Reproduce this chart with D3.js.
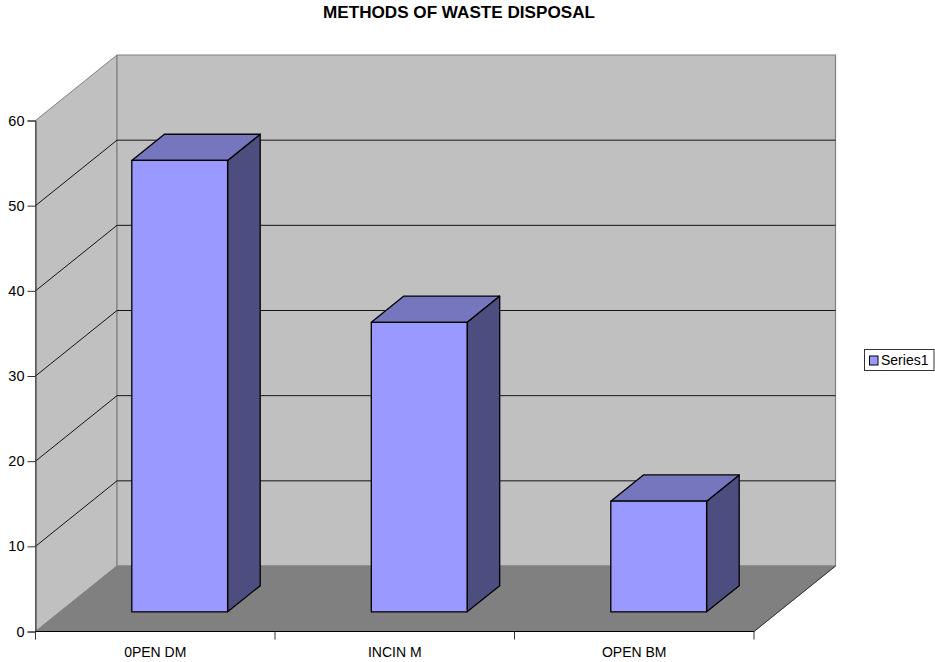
<!DOCTYPE html>
<html>
<head>
<meta charset="utf-8">
<script src="https://cdn.jsdelivr.net/npm/d3@7"></script>
<style>
  html, body { margin: 0; padding: 0; background: #fff; }
  text { font-family: "Liberation Sans", Arial, sans-serif; fill: #000; }
</style>
</head>
<body>
<svg id="chart" width="935" height="662"></svg>
<script>
// Chart content
const chartTitle = "METHODS OF WASTE DISPOSAL";
const categories = ["0PEN DM", "INCIN M", "OPEN BM"];
const seriesName = "Series1";
const values = [53, 34, 13];
const yTicks = [0, 10, 20, 30, 40, 50, 60];

// Colours of the 3D box and the walls
const barFront = "#9999FF", barTop = "#7676BE", barSide = "#4D4D7F";
const wallFill = "#C0C0C0", floorFill = "#808080", wallEdge = "#808080";

const svg = d3.select("#chart");

// Front plane of the plot
const x = d3.scaleBand().domain(categories).range([35.5, 754]).paddingInner(0).paddingOuter(0);
const y = d3.scaleLinear().domain([0, 60]).range([631.5, 120.5]);

// Oblique projection: depth 0 is the front plane, depth 1 the back wall
const depthX = d3.scaleLinear().domain([0, 1]).range([0, 81.5]);
const depthY = d3.scaleLinear().domain([0, 1]).range([0, -65.5]);
const pt = (px, val, d) => [px + depthX(d), y(val) + depthY(d)];
const poly = pts => "M" + pts.map(p => p.join(",")).join("L") + "Z";

const xLeft = x.range()[0], xRight = x.range()[1];
const yMax = yTicks[yTicks.length - 1];

// Side wall
svg.append("path")
  .attr("d", poly([pt(xLeft, 0, 0), pt(xLeft, 0, 1), pt(xLeft, yMax, 1), pt(xLeft, yMax, 0)]))
  .attr("fill", wallFill).attr("stroke", wallEdge).attr("stroke-width", 1);

// Back wall
svg.append("path")
  .attr("d", poly([pt(xLeft, 0, 1), pt(xRight, 0, 1), pt(xRight, yMax, 1), pt(xLeft, yMax, 1)]))
  .attr("fill", wallFill).attr("stroke", wallEdge).attr("stroke-width", 1.2);

// Floor
svg.append("path")
  .attr("d", poly([pt(xLeft, 0, 0), pt(xRight, 0, 0), pt(xRight, 0, 1), pt(xLeft, 0, 1)]))
  .attr("fill", floorFill).attr("stroke", wallEdge).attr("stroke-width", 1);

// Gridlines wrap across the side wall and the back wall
svg.append("g").selectAll("path")
  .data(yTicks.filter(t => t > 0 && t < yMax))
  .join("path")
  .attr("d", t => d3.line()([pt(xLeft, t, 0), pt(xLeft, t, 1), pt(xRight, t, 1)]))
  .attr("fill", "none").attr("stroke", "#000").attr("stroke-width", 0.9);

// Floor front edge towards the right-hand corner
svg.append("path")
  .attr("d", d3.line()([pt(xRight, 0, 0), pt(xRight, 0, 1)]))
  .attr("stroke", "#333").attr("stroke-width", 1).attr("fill", "none");

// Boxes: the bar fills 40% of each band and sits between depths 0.3 and 0.7
const barW = x.bandwidth() * 0.4;
const d0 = 0.3, d1 = 0.7;
const bars = svg.append("g").selectAll("g")
  .data(categories.map((c, i) => ({ c, v: values[i] })))
  .join("g")
  .attr("stroke", "#000").attr("stroke-width", 1.3).attr("stroke-linejoin", "round");

const left = d => x(d.c) + (x.bandwidth() - barW) / 2;

bars.append("path").attr("fill", barSide).attr("d", d => poly([
  pt(left(d) + barW, 0, d0), pt(left(d) + barW, 0, d1),
  pt(left(d) + barW, d.v, d1), pt(left(d) + barW, d.v, d0)]));
bars.append("path").attr("fill", barTop).attr("d", d => poly([
  pt(left(d), d.v, d0), pt(left(d) + barW, d.v, d0),
  pt(left(d) + barW, d.v, d1), pt(left(d), d.v, d1)]));
bars.append("path").attr("fill", barFront).attr("d", d => poly([
  pt(left(d), 0, d0), pt(left(d) + barW, 0, d0),
  pt(left(d) + barW, d.v, d0), pt(left(d), d.v, d0)]));

// Value axis on the front-left edge
const yAxis = svg.append("g").attr("transform", `translate(${xLeft},0)`)
  .call(d3.axisLeft(y).tickValues(yTicks).tickSize(8).tickPadding(3).tickFormat(d3.format("d")));
yAxis.select(".domain").attr("stroke", "#333").attr("stroke-width", 1);
yAxis.selectAll(".tick line").attr("stroke", "#333");
yAxis.selectAll("text").attr("font-size", 14.5).attr("fill", "#1a1a1a")
  .style("font-family", '"Liberation Sans", Arial, sans-serif');

// Category axis: ticks on the band boundaries, labels centred in each band
const front = svg.append("g");
front.append("line").attr("x1", xLeft).attr("x2", xRight).attr("y1", y(0)).attr("y2", y(0))
  .attr("stroke", "#000").attr("stroke-width", 1);
front.selectAll("line.tick")
  .data(d3.range(categories.length + 1))
  .join("line").attr("class", "tick")
  .attr("x1", i => xLeft + i * x.bandwidth()).attr("x2", i => xLeft + i * x.bandwidth())
  .attr("y1", y(0)).attr("y2", y(0) + 8)
  .attr("stroke", "#333");
front.selectAll("text")
  .data(categories)
  .join("text")
  .attr("x", c => x(c) + x.bandwidth() / 2)
  .attr("y", 657)
  .attr("text-anchor", "middle").attr("font-size", 14).attr("fill", "#1a1a1a")
  .text(c => c);

// Title
svg.append("text").attr("x", 459).attr("y", 18)
  .attr("text-anchor", "middle").attr("font-size", 17).attr("font-weight", "bold")
  .attr("textLength", 272).attr("lengthAdjust", "spacingAndGlyphs")
  .text(chartTitle);

// Legend
const legend = svg.append("g");
legend.append("rect").attr("x", 864.5).attr("y", 349.5).attr("width", 69.5).attr("height", 21)
  .attr("fill", "#fff").attr("stroke", "#333").attr("stroke-width", 1);
legend.append("rect").attr("x", 869.5).attr("y", 356).attr("width", 8.5).attr("height", 9)
  .attr("fill", barFront).attr("stroke", "#000").attr("stroke-width", 1);
legend.append("text").attr("x", 881).attr("y", 365).attr("font-size", 14).attr("fill", "#1a1a1a").text(seriesName);
</script>
</body>
</html>
